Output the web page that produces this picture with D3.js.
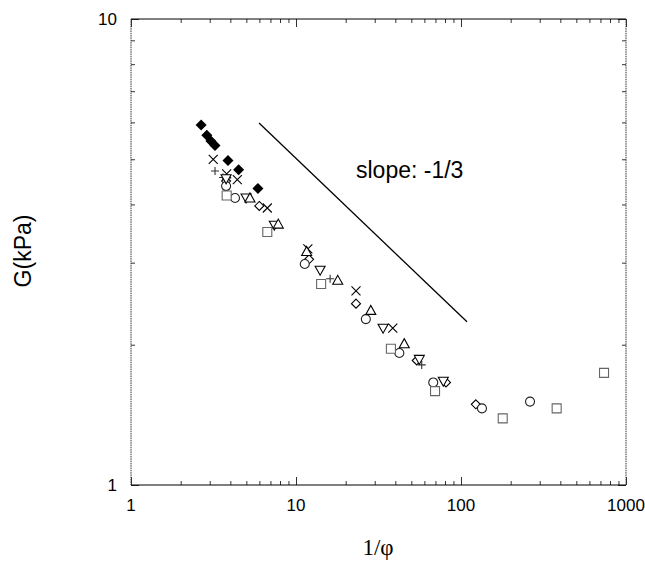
<!DOCTYPE html>
<html lang="en">
  <head>
    <meta charset="UTF-8" />
    <title>G vs 1/phi</title>
    <script src="https://d3js.org/d3.v7.min.js" charset="utf-8"></script>
    <style>
      body { margin: 0; background: #fff; }
      text { font-family: "Liberation Sans", Arial, sans-serif; fill: #000; }
    </style>
  </head>
  <body>
    <div id="chart"></div>
    <script>
      // data, one pair of arrays per symbol
      const filledDiamondX = [2.66, 2.88, 3.05, 3.23, 3.87, 4.49, 5.88];
      const filledDiamondY = [5.92, 5.63, 5.47, 5.35, 4.97, 4.75, 4.33];
      const timesX = [3.15, 3.80, 4.41, 6.70, 11.8, 23.1, 38.6];
      const timesY = [5.00, 4.65, 4.52, 3.93, 3.21, 2.61, 2.17];
      const plusX = [3.23, 3.61, 16.1, 57.8];
      const plusY = [4.72, 4.57, 2.77, 1.81];
      const openDiamondX = [3.77, 5.99, 12.0, 23.1, 53.9, 81.1, 123];
      const openDiamondY = [4.49, 3.97, 3.05, 2.45, 1.85, 1.66, 1.49];
      const circleX = [3.77, 4.27, 11.3, 26.5, 42.3, 67.9, 134, 262];
      const circleY = [4.38, 4.13, 2.98, 2.27, 1.92, 1.66, 1.46, 1.51];
      const squareX = [3.80, 6.70, 14.2, 37.6, 69.6, 179, 380, 736];
      const squareY = [4.18, 3.49, 2.70, 1.96, 1.59, 1.39, 1.46, 1.74];
      const downTriX = [3.77, 4.98, 7.39, 14.0, 33.7, 55.9, 78.1];
      const downTriY = [4.54, 4.13, 3.61, 2.89, 2.17, 1.86, 1.67];
      const upTriX = [5.26, 7.81, 11.6, 17.9, 28.4, 45.3];
      const upTriY = [4.13, 3.63, 3.17, 2.75, 2.37, 2.01];

      // reference slope line
      const slopeX = [5.97, 108.7];
      const slopeY = [5.98, 2.24];
      const slopeLabel = "slope: -1/3";

      const xTickLabels = ["1", "10", "100", "1000"];
      const yTickLabels = ["1", "10"];

      const width = 645;
      const height = 563;
      const plotLeft = 131, plotRight = 626, plotTop = 19, plotBottom = 485;

      let x = d3.scaleLog().domain([1, 1000]).range([plotLeft, plotRight]);
      let y = d3.scaleLog().domain([1, 10]).range([plotBottom, plotTop]);

      // hand made symbol shapes (size = width in px)
      const shapes = {
        filledDiamond: (c, s) => { c.moveTo(0, -s / 2); c.lineTo(s / 2, 0); c.lineTo(0, s / 2); c.lineTo(-s / 2, 0); c.closePath(); },
        openDiamond: (c, s) => { c.moveTo(0, -s / 2); c.lineTo(s / 2, 0); c.lineTo(0, s / 2); c.lineTo(-s / 2, 0); c.closePath(); },
        times: (c, s) => { let r = s / 2; c.moveTo(-r, -r); c.lineTo(r, r); c.moveTo(r, -r); c.lineTo(-r, r); },
        plus: (c, s) => { let r = s / 2; c.moveTo(-r, 0); c.lineTo(r, 0); c.moveTo(0, -r); c.lineTo(0, r); },
        circle: (c, s) => { c.moveTo(s / 2, 0); c.arc(0, 0, s / 2, 0, 2 * Math.PI); },
        square: (c, s) => { c.rect(-s / 2, -s / 2, s, s); },
        downTri: (c, s) => { let r = s / 2; c.moveTo(-r, -r * 0.8); c.lineTo(r, -r * 0.8); c.lineTo(0, r); c.closePath(); },
        upTri: (c, s) => { let r = s / 2; c.moveTo(-r, r * 0.8); c.lineTo(r, r * 0.8); c.lineTo(0, -r); c.closePath(); }
      };

      const series = [
        { key: "filledDiamond", xs: filledDiamondX, ys: filledDiamondY, size: 11, fill: "#000", stroke: "none" },
        { key: "times", xs: timesX, ys: timesY, size: 9, fill: "none", stroke: "#000" },
        { key: "plus", xs: plusX, ys: plusY, size: 8, fill: "none", stroke: "#333" },
        { key: "openDiamond", xs: openDiamondX, ys: openDiamondY, size: 9, fill: "#fff", stroke: "#000" },
        { key: "circle", xs: circleX, ys: circleY, size: 9, fill: "#fff", stroke: "#222" },
        { key: "square", xs: squareX, ys: squareY, size: 9, fill: "#fff", stroke: "#666" },
        { key: "downTri", xs: downTriX, ys: downTriY, size: 10, fill: "#fff", stroke: "#000" },
        { key: "upTri", xs: upTriX, ys: upTriY, size: 10, fill: "#fff", stroke: "#000" }
      ];

      let svg = d3
        .select("#chart")
        .append("svg")
        .attr("width", width)
        .attr("height", height);

      // minor ticks 2..9 per decade, major at decades
      const xMajor = [1, 10, 100, 1000];
      const xMinor = d3.range(0, 3).flatMap(k => d3.range(2, 10).map(m => m * Math.pow(10, k)));
      const yMajor = [1, 10];
      const yMinor = d3.range(2, 10);

      function tickAxis(axisFn, scale, values, size, transform) {
        svg.append("g")
          .attr("transform", transform)
          .call(axisFn(scale).tickValues(values).tickSize(size).tickFormat(""))
          .call(g => g.select(".domain").remove())
          .call(g => g.selectAll("line").attr("stroke", "#000").attr("stroke-width", 0.8));
      }

      tickAxis(d3.axisBottom, x, xMajor, -8, `translate(0,${plotBottom})`);
      tickAxis(d3.axisBottom, x, xMinor, -4, `translate(0,${plotBottom})`);
      tickAxis(d3.axisTop, x, xMajor, -8, `translate(0,${plotTop})`);
      tickAxis(d3.axisTop, x, xMinor, -4, `translate(0,${plotTop})`);
      tickAxis(d3.axisLeft, y, yMajor, -8, `translate(${plotLeft},0)`);
      tickAxis(d3.axisLeft, y, yMinor, -4, `translate(${plotLeft},0)`);
      tickAxis(d3.axisRight, y, yMajor, -8, `translate(${plotRight},0)`);
      tickAxis(d3.axisRight, y, yMinor, -4, `translate(${plotRight},0)`);

      // frame: solid top/bottom, finer dotted sides like the scan
      let frame = svg.append("g").attr("fill", "none");
      frame.append("path")
        .attr("d", `M${plotLeft},${plotTop}H${plotRight}M${plotLeft},${plotBottom}H${plotRight}`)
        .attr("stroke", "#000")
        .attr("stroke-width", 1);
      frame.append("path")
        .attr("d", `M${plotLeft},${plotTop}V${plotBottom}M${plotRight},${plotTop}V${plotBottom}`)
        .attr("stroke", "#333")
        .attr("stroke-width", 1)
        .attr("stroke-dasharray", "1.5,0.8");

      // tick labels
      svg.append("g")
        .selectAll("text")
        .data(xMajor)
        .enter()
        .append("text")
        .attr("x", d => x(d))
        .attr("y", plotBottom + 26)
        .attr("text-anchor", "middle")
        .style("font-size", "17px")
        .text((d, i) => xTickLabels[i]);

      svg.append("g")
        .selectAll("text")
        .data(yMajor)
        .enter()
        .append("text")
        .attr("x", plotLeft - 14)
        .attr("y", d => y(d) + 6)
        .attr("text-anchor", "end")
        .style("font-size", "17px")
        .text((d, i) => yTickLabels[i]);

      // axis titles
      svg.append("text")
        .attr("transform", "translate(31,251) rotate(-90)")
        .attr("text-anchor", "middle")
        .style("font-size", "23px")
        .text("G(kPa)");

      svg.append("text")
        .attr("x", 378)
        .attr("y", 555)
        .attr("text-anchor", "middle")
        .style("font-family", "'Liberation Serif', 'DejaVu Serif', serif")
        .style("font-size", "23px")
        .text("1/φ");

      // slope line + label
      let line = d3.line().x(d => x(d[0])).y(d => y(d[1]));
      svg.append("path")
        .attr("d", line(d3.zip(slopeX, slopeY)))
        .attr("fill", "none")
        .attr("stroke", "#000")
        .attr("stroke-width", 1.3);

      svg.append("text")
        .attr("x", 356)
        .attr("y", 178)
        .style("font-size", "23px")
        .text(slopeLabel);

      // markers
      series.forEach(s => {
        let pts = d3.zip(s.xs, s.ys);
        svg.append("g")
          .selectAll("path")
          .data(pts)
          .enter()
          .append("path")
          .attr("transform", d => `translate(${x(d[0])},${y(d[1])})`)
          .attr("d", () => {
            let p = d3.path();
            shapes[s.key](p, s.size);
            return p.toString();
          })
          .attr("fill", s.fill)
          .attr("stroke", s.stroke)
          .attr("stroke-width", 1.1);
      });
    </script>
  </body>
</html>
